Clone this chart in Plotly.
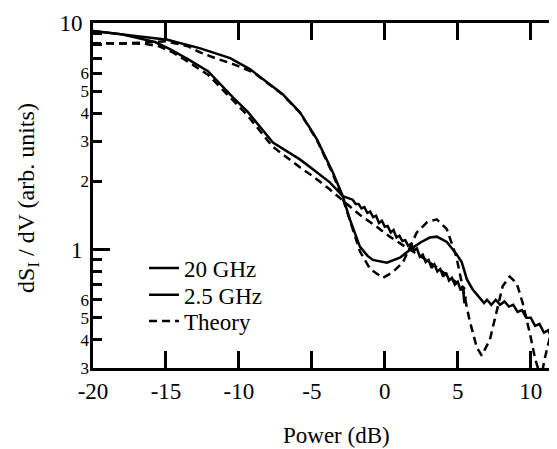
import plotly.graph_objects as go

# ---- data ----
x_20ghz = [-20, -18.1, -14.9, -12.7, -10.6, -9.25, -8.08, -7.0, -5.82, -4.66, -3.56, -2.88,
           -2.4, -1.71, -1.2, -0.82, 0.14, 1.03, 1.92, 2.5, 3.08, 3.56, 4.25, 4.93, 5.27,
           5.62, 6.0, 6.5, 6.8, 7.0, 7.3, 7.6, 7.9, 8.2, 8.5, 8.8, 9.1, 9.4, 9.7, 10.0,
           10.3, 10.6, 10.9, 11.2, 11.5, 11.8]
y_20ghz = [9.22, 8.93, 8.44, 7.75, 7.0, 6.26, 5.48, 4.85, 4.04, 3.07, 2.19, 1.72,
           1.36, 1.03, 0.94, 0.90, 0.875, 0.92, 1.02, 1.08, 1.13, 1.14, 1.08, 0.95, 0.88,
           0.74, 0.67, 0.61, 0.58, 0.60, 0.57, 0.60, 0.57, 0.59, 0.56, 0.57, 0.53, 0.54,
           0.50, 0.50, 0.46, 0.47, 0.43, 0.44, 0.40, 0.42]

x_25ghz = [-20, -18.1, -15.75, -14.73, -13.5, -12.12, -10.41, -9.38, -7.67, -5.82, -4.93,
           -3.77, -2.88, -2.2, -2.0, -1.8, -1.6, -1.4, -1.2, -1.0, -0.8, -0.6, -0.4, -0.2,
           0.0, 0.2, 0.4, 0.6, 0.8, 1.0, 1.2, 1.4, 1.6, 1.8, 2.0, 2.2, 2.4, 2.6, 2.8, 3.0,
           3.2, 3.4, 3.6, 3.8, 4.0, 4.2, 4.4, 4.6, 4.8, 5.0, 5.2, 5.35, 5.45, 5.55]
y_25ghz = [9.22, 8.93, 8.24, 7.67, 6.93, 6.13, 4.7, 4.04, 2.97, 2.5, 2.26,
           1.98, 1.72, 1.66, 1.59, 1.59, 1.52, 1.54, 1.45, 1.47, 1.39, 1.41, 1.31, 1.34,
           1.26, 1.27, 1.19, 1.22, 1.13, 1.15, 1.09, 1.10, 1.04, 1.06, 0.99, 1.01, 0.93,
           0.95, 0.88, 0.90, 0.83, 0.86, 0.80, 0.82, 0.76, 0.79, 0.73, 0.75, 0.70, 0.72,
           0.66, 0.69, 0.58, 0.62]

x_theory_a = [-20, -18, -16.5, -15, -13.5, -12.7, -11.5, -10.3, -9.0, -8.08, -7.0, -5.82,
              -4.66, -3.56, -2.88, -2.4, -1.7, -1.0, -0.14, 0.5, 1.23, 2.19, 2.9, 3.56,
              4.25, 4.9, 5.34, 5.8, 6.3, 6.64, 7.2, 7.67, 8.08, 8.56, 9.04, 9.45, 9.93,
              10.3, 10.7, 10.96, 11.5, 11.8]
y_theory_a = [8.15, 8.12, 8.2, 8.3, 7.9, 7.43, 6.95, 6.55, 6.05, 5.45, 4.83, 4.02,
              3.05, 2.15, 1.68, 1.35, 0.98, 0.82, 0.75, 0.79, 0.875, 1.19, 1.32, 1.36,
              1.23, 0.93, 0.67, 0.49, 0.37, 0.34, 0.40, 0.53, 0.69, 0.76, 0.71, 0.58, 0.43,
              0.33, 0.27, 0.33, 0.46, 0.53]

x_theory_b = [-20, -18, -16.5, -15.5, -14.5, -13.5, -12.1, -10.4, -9.4, -7.7, -5.8, -4.9,
              -3.8, -2.9, -1.7, -0.55, 0.34, 1.7, 2.5, 3.5, 4.5, 5.5]
y_theory_b = [8.15, 8.12, 8.1, 7.9, 7.4, 6.75, 5.9, 4.55, 3.9, 2.85, 2.3, 2.1,
              1.85, 1.65, 1.42, 1.26, 1.14, 1.0, 0.93, 0.84, 0.75, 0.67]

x_ticks = [-20, -15, -10, -5, 0, 5, 10]
x_tick_text = ["-20", "-15", "-10", "-5", "0", "5", "10"]
y_major = [1, 10]
y_major_text = ["1", "10"]
y_minor = [0.3, 0.4, 0.5, 0.6, 0.7, 0.8, 0.9, 2, 3, 4, 5, 6, 7, 8, 9]
y_minor_text = ["3", "4", "5", "6", "", "", "", "2", "3", "4", "5", "6", "", "", ""]

FONT = "Liberation Serif"
LW = 2.5
DASH = "8px,5px"

fig = go.Figure()
fig.add_trace(go.Scatter(x=x_20ghz, y=y_20ghz, mode="lines", name="20 GHz",
                         legend="legend", line=dict(color="black", width=LW)))
fig.add_trace(go.Scatter(x=x_25ghz, y=y_25ghz, mode="lines", name="2.5 GHz",
                         legend="legend2", line=dict(color="black", width=LW)))
fig.add_trace(go.Scatter(x=x_theory_a, y=y_theory_a, mode="lines", name="Theory",
                         legend="legend3", line=dict(color="black", width=LW, dash=DASH)))
fig.add_trace(go.Scatter(x=x_theory_b, y=y_theory_b, mode="lines", name="Theory",
                         showlegend=False, line=dict(color="black", width=LW, dash=DASH)))
# helper traces to activate the extra tick axes
fig.add_trace(go.Scatter(x=[None], y=[None], yaxis="y2", showlegend=False, hoverinfo="skip"))
fig.add_trace(go.Scatter(x=[None], y=[None], yaxis="y3", showlegend=False, hoverinfo="skip"))

def leg(ypos):
    return dict(x=0.11, y=ypos, xanchor="left", yanchor="middle",
                bgcolor="rgba(0,0,0,0)", font=dict(size=23, family=FONT),
                itemwidth=30)

yrange = [-0.5229, 1.0]
fig.update_layout(
    width=549, height=441,
    margin=dict(l=85, r=0, t=15, b=81, autoexpand=False),
    paper_bgcolor="white", plot_bgcolor="white",
    font=dict(family=FONT, color="black"),
    showlegend=True,
    legend=leg(0.290),
    legend2=leg(0.212),
    legend3=leg(0.136),
    xaxis=dict(range=[-20, 11.8], tickvals=x_ticks, ticktext=x_tick_text,
               ticks="inside", ticklen=17, automargin=False,
               tickwidth=3, tickcolor="black", showline=True, linewidth=3,
               linecolor="black", mirror="ticks", showgrid=False, zeroline=False,
               tickfont=dict(size=23, family=FONT)),
    yaxis=dict(type="log", range=yrange, tickvals=y_major, ticktext=y_major_text,
               ticks="inside", ticklen=17, tickwidth=3, tickcolor="black",
               showline=True, linewidth=3, linecolor="black", showgrid=False,
               zeroline=False, tickfont=dict(size=23, family=FONT),
               ticklabelstandoff=3, automargin=False),
    yaxis2=dict(type="log", range=yrange, overlaying="y", side="right",
                tickvals=y_major + y_minor, showticklabels=False, ticks="inside",
                ticklen=8, tickwidth=3, tickcolor="black", showline=False,
                showgrid=False, zeroline=False, automargin=False),
    yaxis3=dict(type="log", range=yrange, overlaying="y", side="left",
                tickvals=y_minor, ticktext=y_minor_text, ticks="inside", ticklen=9,
                tickwidth=3, tickcolor="black", showline=False, showgrid=False,
                zeroline=False, tickfont=dict(size=17, family=FONT),
                ticklabelstandoff=3, automargin=False),
    annotations=[
        dict(text="Power (dB)", xref="paper", yref="paper", x=0.524, y=-0.195,
             xanchor="center", yanchor="middle", showarrow=False,
             font=dict(size=23, family=FONT)),
        dict(text="dS<sub>I</sub> / dV (arb. units)", xref="paper", yref="paper",
             x=-0.14, y=0.493, xanchor="center", yanchor="middle", textangle=-90,
             showarrow=False, font=dict(size=24, family=FONT)),
    ],
)

fig.write_html("out.html")
